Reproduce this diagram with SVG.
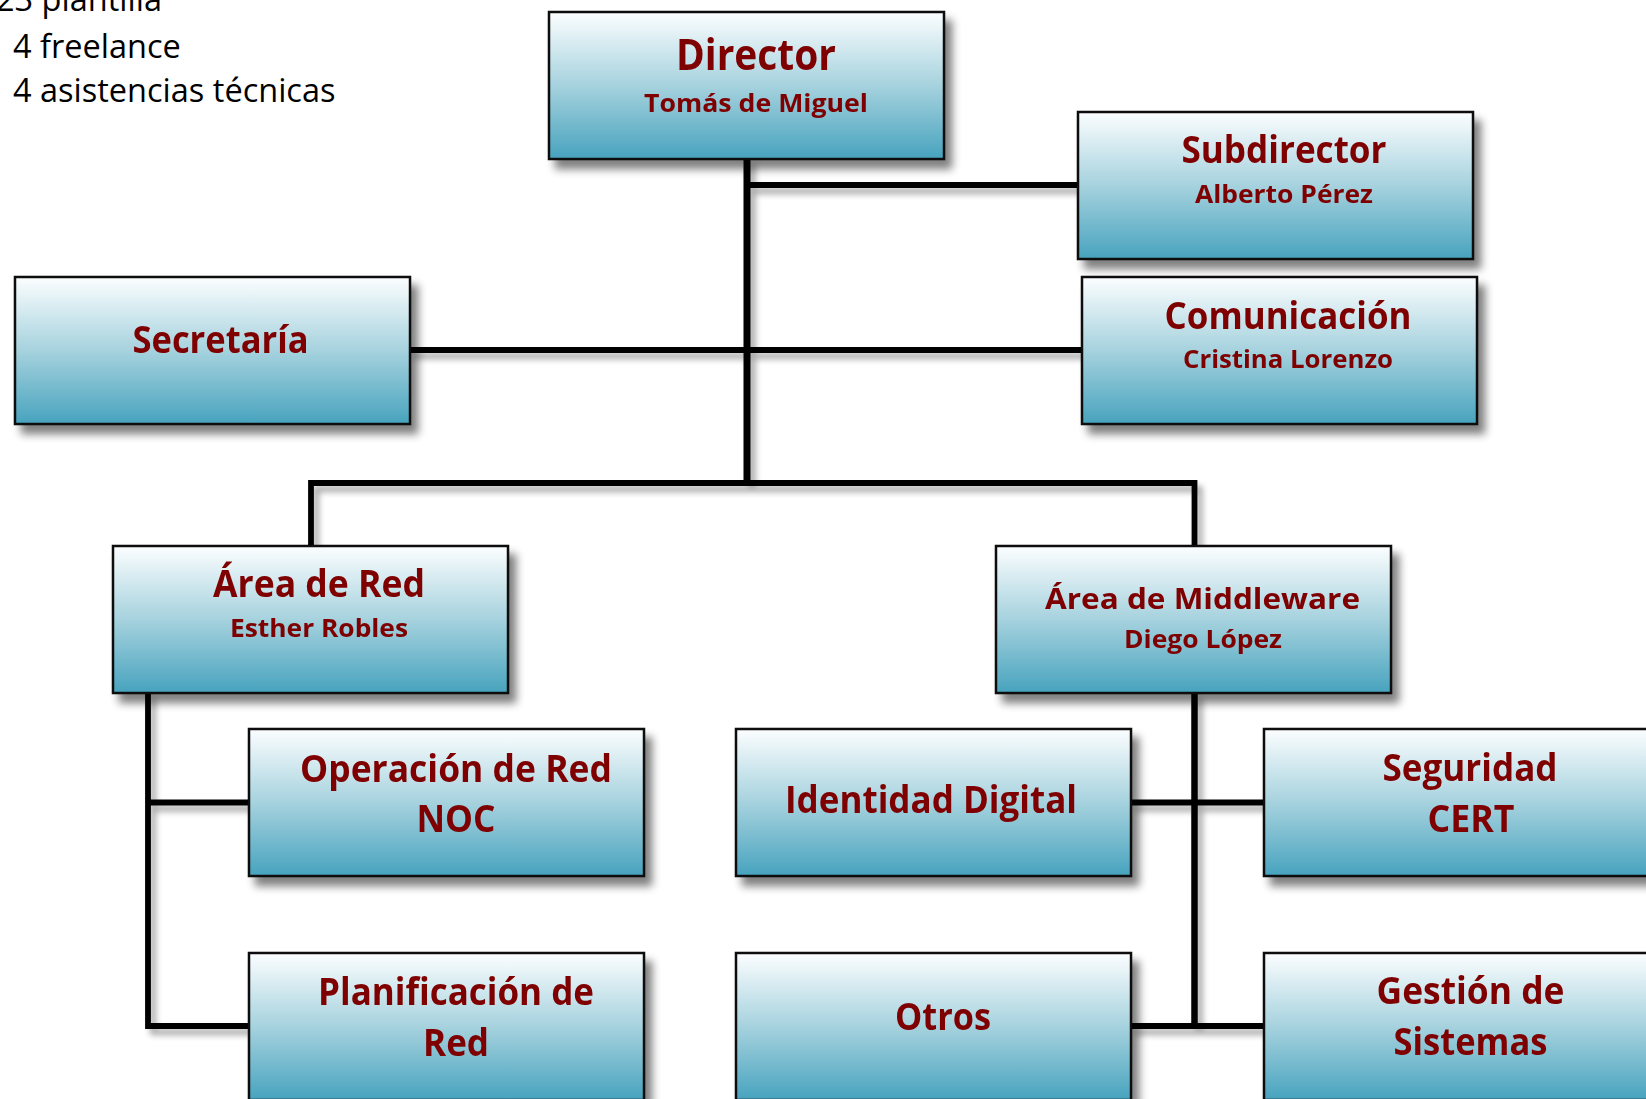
<svg xmlns="http://www.w3.org/2000/svg" width="1646" height="1099" viewBox="0 0 1646 1099">
<defs>
<linearGradient id="g" x1="0" y1="0" x2="0" y2="1">
<stop offset="0" stop-color="#fcfeff"/>
<stop offset="0.5" stop-color="#a6d2de"/>
<stop offset="1" stop-color="#47a3be"/>
</linearGradient>
<filter id="sh" filterUnits="userSpaceOnUse" x="0" y="0" width="1646" height="1099">
<feGaussianBlur in="SourceAlpha" stdDeviation="4"/>
<feOffset dx="7" dy="9"/>
<feComponentTransfer><feFuncA type="linear" slope="0.5"/></feComponentTransfer>
<feMerge><feMergeNode/><feMergeNode in="SourceGraphic"/></feMerge>
</filter>
<filter id="lsh" filterUnits="userSpaceOnUse" x="0" y="0" width="1646" height="1099">
<feGaussianBlur in="SourceAlpha" stdDeviation="3"/>
<feOffset dx="5" dy="6"/>
<feComponentTransfer><feFuncA type="linear" slope="0.35"/></feComponentTransfer>
<feMerge><feMergeNode/><feMergeNode in="SourceGraphic"/></feMerge>
</filter>
</defs>
<style>
.box{fill:url(#g);stroke:#111;stroke-width:2.5}
.t{font-family:"Open Sans","Noto Sans","DejaVu Sans",sans-serif;font-weight:bold;fill:#7f0000;text-anchor:middle}
.big{font-size:38px}
.dir{font-size:43px}
.mid{font-size:28px}
.nm{font-size:25px}
.note{font-family:"Open Sans","Noto Sans","DejaVu Sans",sans-serif;font-size:32.5px;fill:#000}
.c{fill:none;stroke:#000;stroke-width:5.8;stroke-linejoin:miter;stroke-linecap:butt}
</style>
<rect width="1646" height="1099" fill="#fff"/>
<g id="notes">
<text class="note" x="-4" y="11">23 plantilla</text>
<text class="note" x="13" y="58">4 freelance</text>
<text class="note" x="13" y="102">4 asistencias técnicas</text>
</g>
<g id="connectors" filter="url(#lsh)">
<path class="c" d="M747 159V483" style="stroke-width:7"/>
<path class="c" d="M747 185H1078"/>
<path class="c" d="M409 350H1082"/>
<path class="c" d="M311 546V483H1194.5V546"/>
<path class="c" d="M148 693V1026H249"/>
<path class="c" d="M148 802.5H249"/>
<path class="c" d="M1194.5 693V1026" style="stroke-width:6.5"/>
<path class="c" d="M1131 802.5H1264"/>
<path class="c" d="M1131 1026H1264"/>
</g>
<g id="director" filter="url(#sh)">
<rect class="box" x="549" y="12" width="395" height="147"/>
<text class="t dir" x="756" y="70" textLength="160" lengthAdjust="spacingAndGlyphs">Director</text>
<text class="t nm" x="756" y="112" textLength="224" lengthAdjust="spacingAndGlyphs">Tomás de Miguel</text>
</g>
<g id="subdirector" filter="url(#sh)">
<rect class="box" x="1078" y="112" width="395" height="147"/>
<text class="t big" x="1284" y="163" textLength="205" lengthAdjust="spacingAndGlyphs">Subdirector</text>
<text class="t nm" x="1284" y="203" textLength="178" lengthAdjust="spacingAndGlyphs">Alberto Pérez</text>
</g>
<g id="comunicacion" filter="url(#sh)">
<rect class="box" x="1082" y="277" width="395" height="147"/>
<text class="t big" x="1288" y="329" textLength="247" lengthAdjust="spacingAndGlyphs">Comunicación</text>
<text class="t nm" x="1288" y="368" textLength="210" lengthAdjust="spacingAndGlyphs">Cristina Lorenzo</text>
</g>
<g id="secretaria" filter="url(#sh)">
<rect class="box" x="15" y="277" width="395" height="147"/>
<text class="t big" x="220.5" y="353" textLength="176" lengthAdjust="spacingAndGlyphs">Secretaría</text>
</g>
<g id="area-red" filter="url(#sh)">
<rect class="box" x="113" y="546" width="395" height="147"/>
<text class="t big" x="319" y="597" textLength="212" lengthAdjust="spacingAndGlyphs">Área de Red</text>
<text class="t nm" x="319" y="637" textLength="178" lengthAdjust="spacingAndGlyphs">Esther Robles</text>
</g>
<g id="area-middleware" filter="url(#sh)">
<rect class="box" x="996" y="546" width="395" height="147"/>
<text class="t mid" x="1202.5" y="609" textLength="315" lengthAdjust="spacingAndGlyphs">Área de Middleware</text>
<text class="t nm" x="1203" y="648" textLength="158" lengthAdjust="spacingAndGlyphs">Diego López</text>
</g>
<g id="operacion" filter="url(#sh)">
<rect class="box" x="249" y="729" width="395" height="147"/>
<text class="t big" x="456" y="782" textLength="312" lengthAdjust="spacingAndGlyphs">Operación de Red</text>
<text class="t big" x="456" y="832" textLength="79" lengthAdjust="spacingAndGlyphs">NOC</text>
</g>
<g id="identidad" filter="url(#sh)">
<rect class="box" x="736" y="729" width="395" height="147"/>
<text class="t big" x="931" y="813" textLength="292" lengthAdjust="spacingAndGlyphs">Identidad Digital</text>
</g>
<g id="seguridad" filter="url(#sh)">
<rect class="box" x="1264" y="729" width="395" height="147"/>
<text class="t big" x="1470" y="781" textLength="175" lengthAdjust="spacingAndGlyphs">Seguridad</text>
<text class="t big" x="1471" y="832" textLength="87" lengthAdjust="spacingAndGlyphs">CERT</text>
</g>
<g id="planificacion" filter="url(#sh)">
<rect class="box" x="249" y="953" width="395" height="147"/>
<text class="t big" x="456" y="1005" textLength="276" lengthAdjust="spacingAndGlyphs">Planificación de</text>
<text class="t big" x="456" y="1056" textLength="66" lengthAdjust="spacingAndGlyphs">Red</text>
</g>
<g id="otros" filter="url(#sh)">
<rect class="box" x="736" y="953" width="395" height="147"/>
<text class="t big" x="943" y="1030" textLength="96" lengthAdjust="spacingAndGlyphs">Otros</text>
</g>
<g id="gestion" filter="url(#sh)">
<rect class="box" x="1264" y="953" width="395" height="147"/>
<text class="t big" x="1470.5" y="1004" textLength="188" lengthAdjust="spacingAndGlyphs">Gestión de</text>
<text class="t big" x="1470.5" y="1055" textLength="154" lengthAdjust="spacingAndGlyphs">Sistemas</text>
</g>
</svg>
